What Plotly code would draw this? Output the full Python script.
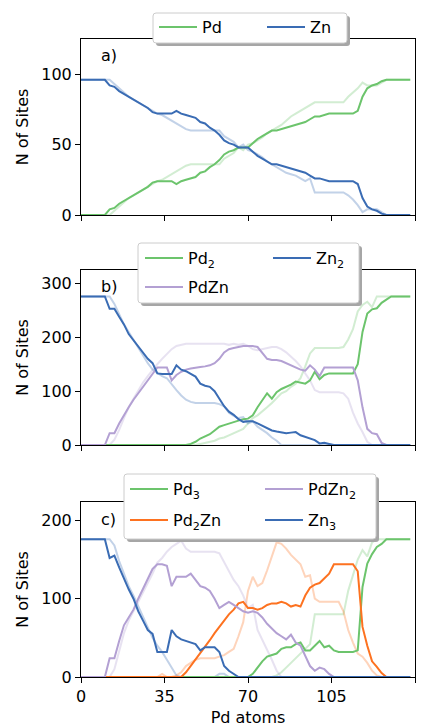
import plotly.graph_objects as go

# ---------------- data (x grid: Pd atoms) ----------------
X = list(range(0, 139, 2))

# panel a
ZN_A = [96, 96, 96, 96, 96, 96, 92, 91, 88, 86,
        84, 82, 80, 78, 76, 73, 72, 72, 72, 72,
        74, 72, 71, 70, 69, 66, 65, 62, 60, 57,
        53, 51, 50, 48, 48, 48, 45, 42, 40, 38,
        36, 36, 35, 34, 33, 32, 31, 30, 28, 26,
        26, 25, 24, 24, 24, 24, 24, 24, 22, 12,
        6, 4, 3, 1, 0, 0, 0, 0, 0, 0]
PD_A = [0, 0, 0, 0, 0, 0, 4, 5, 8, 10,
        12, 14, 16, 18, 20, 23, 24, 24, 24, 24,
        22, 24, 25, 26, 27, 30, 31, 34, 36, 39,
        43, 45, 46, 48, 48, 48, 51, 54, 56, 58,
        60, 60, 61, 62, 63, 64, 65, 66, 68, 70,
        70, 71, 72, 72, 72, 72, 72, 72, 74, 84,
        90, 92, 93, 95, 96, 96, 96, 96, 96, 96]
ZN_A_F = [96, 96, 96, 96, 96, 96, 96, 93, 90, 87,
          84, 82, 80, 78, 76, 74, 72, 71, 69, 67,
          65, 63, 61, 60, 60, 60, 60, 60, 60, 60,
          56, 54, 52, 48, 50, 46, 45, 43, 41, 38,
          36, 34, 32, 30, 29, 28, 26, 24, 26, 16,
          16, 16, 16, 16, 16, 16, 14, 11, 7, 2,
          4, 4, 4, 2, 0, 0, 0, 0, 0, 0]
PD_A_F = [0, 0, 0, 0, 0, 0, 0, 3, 6, 9,
          12, 14, 16, 18, 20, 22, 24, 25, 27, 29,
          31, 33, 35, 36, 36, 36, 36, 36, 36, 36,
          40, 42, 44, 48, 46, 50, 51, 53, 55, 58,
          60, 62, 64, 67, 70, 72, 74, 76, 78, 80,
          80, 80, 80, 80, 80, 80, 84, 87, 90, 94,
          92, 92, 92, 94, 96, 96, 96, 96, 96, 96]

# panel b
ZN2_B = [276, 276, 276, 276, 276, 276, 253, 253, 238, 224,
         206, 194, 184, 172, 160, 152, 133, 132, 132, 132,
         148, 140, 137, 132, 127, 114, 110, 108, 100, 86,
         72, 62, 56, 48, 43, 44, 44, 40, 36, 32,
         27, 25, 24, 22, 23, 24, 18, 15, 12, 9,
         3, 4, 2, 0, 0, 0, 0, 0, 0, 0,
         0, 0, 0, 0, 0, 0, 0, 0, 0, 0]
PDZN_B = [0, 0, 0, 0, 0, 0, 22, 22, 40, 56,
          70, 84, 96, 108, 120, 134, 144, 144, 144, 120,
          130, 136, 140, 142, 144, 145, 146, 148, 152, 160,
          172, 178, 180, 182, 184, 184, 184, 182, 172, 160,
          158, 158, 156, 152, 148, 145, 140, 138, 148, 140,
          128, 144, 144, 144, 144, 144, 144, 144, 120, 70,
          30, 22, 20, 4, 0, 0, 0, 0, 0, 0]
PD2_B = [0, 0, 0, 0, 0, 0, 0, 0, 0, 0,
         0, 0, 0, 0, 0, 0, 0, 0, 0, 0,
         0, 0, 0, 2, 6, 12, 16, 20, 27, 34,
         37, 40, 43, 46, 48, 49, 55, 70, 84, 96,
         86, 98, 104, 108, 112, 118, 116, 114, 120, 136,
         122, 130, 133, 133, 133, 133, 133, 133, 150, 210,
         244, 252, 254, 264, 270, 276, 276, 276, 276, 276]
ZN2_B_F = [276, 276, 276, 276, 276, 276, 276, 262, 242, 224,
           210, 195, 180, 166, 152, 140, 134, 128, 124, 112,
           102, 92, 84, 80, 78, 78, 78, 78, 78, 76,
           72, 60, 54, 50, 52, 40, 44, 34, 28, 22,
           14, 8, 0, 0, 0, 0, 0, 0, 0, 0,
           0, 0, 0, 0, 0, 0, 0, 0, 0, 0,
           0, 0, 0, 0, 0, 0, 0, 0, 0, 0]
PDZN_B_F = [0, 0, 0, 0, 0, 0, 0, 10, 28, 50,
            70, 86, 102, 116, 128, 140, 150, 160, 170, 178,
            184, 186, 188, 188, 188, 188, 188, 188, 188, 188,
            188, 186, 188, 186, 188, 184, 178, 176, 178, 180,
            182, 182, 178, 172, 164, 156, 146, 134, 120, 102,
            98, 98, 98, 98, 98, 96, 86, 60, 40, 24,
            6, 0, 0, 0, 0, 0, 0, 0, 0, 0]
PD2_B_F = [0, 0, 0, 0, 0, 0, 0, 0, 0, 0,
           0, 0, 0, 0, 0, 0, 0, 0, 0, 0,
           0, 0, 0, 0, 0, 2, 4, 6, 8, 12,
           14, 18, 22, 26, 30, 40, 50, 55, 62, 70,
           78, 88, 96, 100, 108, 114, 124, 146, 170, 180,
           180, 180, 180, 180, 180, 182, 196, 215, 248, 260,
           266, 256, 276, 276, 276, 276, 276, 276, 276, 276]

# panel c
ZN3_C = [176, 176, 176, 176, 176, 176, 152, 155, 140, 125,
         112, 100, 84, 72, 60, 55, 32, 32, 32, 60,
         52, 48, 46, 44, 42, 34, 38, 38, 38, 32,
         14, 8, 4, 0, 0, 0, 0, 0, 0, 0,
         0, 0, 0, 0, 0, 0, 0, 0, 0, 0,
         0, 0, 0, 0, 0, 0, 0, 0, 0, 0,
         0, 0, 0, 0, 0, 0, 0, 0, 0, 0]
PDZN2_C = [0, 0, 0, 0, 0, 0, 24, 24, 46, 66,
           76, 86, 100, 112, 124, 138, 144, 144, 142, 116,
           128, 128, 128, 132, 124, 116, 114, 110, 100, 88,
           92, 96, 92, 88, 84, 82, 84, 82, 76, 68,
           62, 56, 52, 48, 54, 44, 40, 26, 14, 8,
           12, 10, 4, 0, 0, 0, 0, 0, 0, 0,
           0, 0, 0, 0, 0, 0, 0, 0, 0, 0]
PD2ZN_C = [0, 0, 0, 0, 0, 0, 0, 0, 0, 0,
           0, 0, 0, 0, 0, 0, 0, 0, 0, 0,
           0, 0, 6, 14, 22, 30, 38, 47, 56, 64,
           72, 80, 86, 94, 96, 88, 88, 86, 88, 92,
           94, 94, 96, 94, 90, 92, 90, 104, 114, 118,
           120, 126, 132, 144, 144, 144, 144, 144, 135, 64,
           40, 20, 13, 5, 0, 0, 0, 0, 0, 0]
PD3_C = [0, 0, 0, 0, 0, 0, 0, 0, 0, 0,
         0, 0, 0, 0, 0, 0, 0, 0, 0, 0,
         0, 0, 0, 0, 0, 0, 0, 0, 0, 0,
         0, 0, 0, 0, 0, 0, 4, 12, 20, 26,
         28, 30, 36, 38, 38, 42, 44, 34, 34, 40,
         46, 38, 40, 34, 32, 32, 32, 32, 34, 115,
         145, 157, 166, 170, 176, 176, 176, 176, 176, 176]
ZN3_C_F = [176, 176, 176, 176, 176, 176, 176, 168, 148, 132,
           116, 104, 90, 76, 64, 50, 40, 32, 22, 12,
           2, 0, 0, 0, 0, 0, 0, 0, 0, 4,
           4, 0, 0, 0, 0, 0, 0, 0, 0, 0,
           0, 0, 0, 0, 0, 0, 0, 0, 0, 0,
           0, 0, 0, 0, 0, 0, 0, 0, 0, 0,
           0, 0, 0, 0, 0, 0, 0, 0, 0, 0]
PDZN2_C_F = [0, 0, 0, 0, 0, 0, 0, 10, 32, 56,
             72, 84, 96, 108, 120, 132, 146, 152, 160, 166,
             170, 174, 164, 160, 160, 160, 160, 160, 160, 158,
             146, 136, 124, 116, 104, 88, 92, 60, 48, 36,
             22, 8, 0, 0, 0, 0, 0, 0, 0, 0,
             0, 0, 0, 0, 0, 0, 0, 0, 0, 0,
             0, 0, 0, 0, 0, 0, 0, 0, 0, 0]
PD2ZN_C_F = [0, 0, 0, 0, 0, 0, 0, 0, 0, 0,
             0, 0, 0, 0, 0, 0, 0, 4, 0, 0,
             2, 6, 14, 18, 22, 24, 24, 24, 24, 26,
             28, 32, 36, 52, 70, 110, 128, 116, 120, 136,
             154, 172, 170, 164, 156, 150, 144, 128, 130, 100,
             96, 96, 96, 96, 96, 84, 60, 44, 30, 26,
             18, 8, 2, 0, 0, 0, 0, 0, 0, 0]
PD3_C_F = [0, 0, 0, 0, 0, 0, 0, 0, 0, 0,
           0, 0, 0, 0, 0, 0, 0, 0, 0, 0,
           0, 0, 0, 0, 0, 0, 0, 0, 0, 0,
           0, 0, 0, 0, 0, 0, 0, 0, 0, 0,
           0, 2, 6, 12, 18, 24, 30, 36, 42, 80,
           80, 80, 80, 80, 80, 80, 110, 130, 150, 162,
           154, 172, 176, 176, 176, 176, 176, 176, 176, 176]

X_TICKS = [0, 35, 70, 105, 140]
Y_TICKS_A = [0, 50, 100]
Y_TICKS_B = [0, 100, 200, 300]
Y_TICKS_C = [0, 100, 200]
Y_RANGE_A = [0, 125]
Y_RANGE_B = [0, 325]
Y_RANGE_C = [0, 223.5]

# ---------------- style ----------------
FONT = "DejaVu Sans"
GREEN = "#6cc46c"
BLUE = "#3a6cb4"
PURPLE = "#b3a0d3"
ORANGE = "#fd7220"

W, H = 429, 727
L, R, T, B = 81, 14, 39, 50
PW, PH = W - L - R, H - T - B


def px(x):
    return (x - L) / PW


def py(y):
    return (H - B - y) / PH


fig = go.Figure()


def add(y, color, name, ax, faded, legend=None):
    fig.add_trace(go.Scatter(
        x=X, y=y, mode="lines", name=name,
        line=dict(color=color, width=2),
        opacity=0.3 if faded else 1.0,
        xaxis="x" + ax, yaxis="y" + ax,
        legend=legend if legend else "legend",
        showlegend=(not faded) and legend is not None,
        hoverinfo="skip"))


# panel a
add(PD_A_F, GREEN, "Pd", "", True)
add(ZN_A_F, BLUE, "Zn", "", True)
add(PD_A, GREEN, "Pd", "", False, "legend")
add(ZN_A, BLUE, "Zn", "", False, "legend")
# panel b
add(PD2_B_F, GREEN, "Pd2", "2", True)
add(PDZN_B_F, PURPLE, "PdZn", "2", True)
add(ZN2_B_F, BLUE, "Zn2", "2", True)
add(PD2_B, GREEN, "Pd<sub>2</sub>", "2", False, "legend2")
add(PDZN_B, PURPLE, "PdZn", "2", False, "legend3")
add(ZN2_B, BLUE, "Zn<sub>2</sub>", "2", False, "legend2")
# panel c
add(PD3_C_F, GREEN, "Pd3", "3", True)
add(PD2ZN_C_F, ORANGE, "Pd2Zn", "3", True)
add(PDZN2_C_F, PURPLE, "PdZn2", "3", True)
add(ZN3_C_F, BLUE, "Zn3", "3", True)
add(PD3_C, GREEN, "Pd<sub>3</sub>", "3", False, "legend4")
add(PD2ZN_C, ORANGE, "Pd<sub>2</sub>Zn", "3", False, "legend5")
add(PDZN2_C, PURPLE, "PdZn<sub>2</sub>", "3", False, "legend4")
add(ZN3_C, BLUE, "Zn<sub>3</sub>", "3", False, "legend5")

tickfont = dict(family=FONT, size=16, color="black")
axis_common = dict(showline=True, linecolor="black", linewidth=1, mirror=True,
                   ticks="outside", ticklen=5, tickwidth=1, tickcolor="black",
                   showgrid=False, zeroline=False, tickfont=tickfont)
ytitle = dict(text="N of Sites", font=dict(family=FONT, size=16, color="black"), standoff=8)

layout = dict(
    width=W, height=H, margin=dict(l=L, r=R, t=T, b=B, autoexpand=False),
    paper_bgcolor="white", plot_bgcolor="white",
    font=dict(family=FONT, size=16, color="black"),
    xaxis=dict(axis_common, range=[0, 140], tickvals=X_TICKS, showticklabels=False,
               anchor="y", domain=[0, 1]),
    yaxis=dict(axis_common, range=Y_RANGE_A, tickvals=Y_TICKS_A, anchor="x",
               domain=[py(215), 1.0], title=ytitle),
    xaxis2=dict(axis_common, range=[0, 140], tickvals=X_TICKS, showticklabels=False,
                anchor="y2", domain=[0, 1]),
    yaxis2=dict(axis_common, range=Y_RANGE_B, tickvals=Y_TICKS_B, anchor="x2",
                domain=[py(445), py(270)], title=ytitle),
    xaxis3=dict(axis_common, range=[0, 140], tickvals=X_TICKS, anchor="y3", domain=[0, 1],
                title=dict(text="Pd atoms", font=dict(family=FONT, size=16, color="black"),
                           standoff=6)),
    yaxis3=dict(axis_common, range=Y_RANGE_C, tickvals=Y_TICKS_C, anchor="x3",
                domain=[0, py(502)], title=ytitle),
)

leg_common = dict(orientation="h", bgcolor="rgba(0,0,0,0)", borderwidth=0,
                  font=dict(family=FONT, size=16, color="black"), itemwidth=38,
                  xanchor="left", yanchor="middle", traceorder="normal",
                  entrywidthmode="pixels")
layout["legend"] = dict(leg_common, x=px(154), y=py(27), entrywidth=55)
layout["legend2"] = dict(leg_common, x=px(140), y=py(258), entrywidth=75)
layout["legend3"] = dict(leg_common, x=px(140), y=py(287), entrywidth=75)
layout["legend4"] = dict(leg_common, x=px(125), y=py(489), entrywidth=82)
layout["legend5"] = dict(leg_common, x=px(125), y=py(520), entrywidth=82)


def rounded(x0, y0, x1, y1, r=3):
    # pixel box -> paper path with rounded corners
    X0, X1 = px(x0), px(x1)
    Y0, Y1 = py(y0), py(y1)
    rx, ry = r / PW, r / PH
    return (f"M{X0+rx},{Y0} L{X1-rx},{Y0} Q{X1},{Y0} {X1},{Y0-ry} "
            f"L{X1},{Y1+ry} Q{X1},{Y1} {X1-rx},{Y1} L{X0+rx},{Y1} "
            f"Q{X0},{Y1} {X0},{Y1+ry} L{X0},{Y0-ry} Q{X0},{Y0} {X0+rx},{Y0} Z")


shapes = []
for (x0, y0, x1, y1) in [(153, 13, 347, 43), (138, 243, 359, 303), (124, 474, 376, 539)]:
    shapes.append(dict(type="path", xref="paper", yref="paper", layer="above",
                       path=rounded(x0 + 3, y0 + 3, x1 + 3, y1 + 3),
                       fillcolor="#a6a6a6", line=dict(width=0)))
    shapes.append(dict(type="path", xref="paper", yref="paper", layer="above",
                       path=rounded(x0, y0, x1, y1),
                       fillcolor="white", line=dict(color="#cccccc", width=1)))
layout["shapes"] = shapes

annots = []
for lab, yc in [("a)", 56), ("b)", 286.5), ("c)", 519)]:
    annots.append(dict(text=lab, xref="paper", yref="paper", x=px(99), y=py(yc),
                       xanchor="left", yanchor="middle", showarrow=False,
                       font=dict(family=FONT, size=16, color="black")))
layout["annotations"] = annots

fig.update_layout(**layout)
fig.write_html("out.html")
